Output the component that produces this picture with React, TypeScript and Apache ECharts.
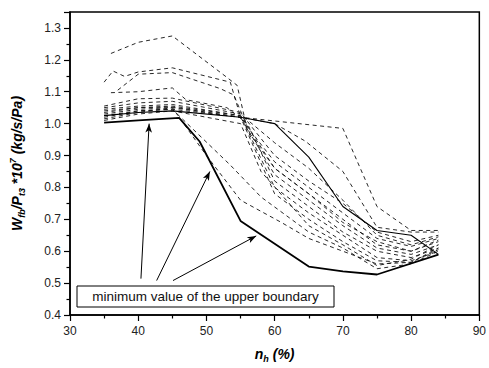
import React, { useEffect, useRef } from "react";
import * as echarts from "echarts";

// x: n_h (%), y: W_fb/P_t3 * 10^7 (kg/s/Pa)
const lowerBoundary: [number, number][] = [[35, 1.003], [40, 1.01], [46, 1.018], [49, 0.944], [55, 0.695], [65, 0.552], [70, 0.537], [75, 0.527], [84, 0.589]];
const solidCurve: [number, number][] = [[35, 1.025], [40, 1.035], [45, 1.04], [55, 1.02], [60, 1.0], [65, 0.895], [70, 0.74], [75, 0.665], [80, 0.65], [84, 0.59]];

const d1: [number, number][] = [[36, 1.22], [40, 1.255], [45, 1.275], [53, 1.145], [54.5, 1.12], [56, 0.98], [60, 0.86], [65, 0.78], [70, 0.7], [75, 0.62], [80, 0.6], [84, 0.63]];
const d2: [number, number][] = [[35, 1.13], [36.3, 1.165], [38, 1.148], [40, 1.162], [45, 1.175], [53.5, 1.13], [55, 1.02], [60, 0.84], [65, 0.76], [70, 0.68], [75, 0.61], [80, 0.59], [84, 0.62]];
const d3: [number, number][] = [[37, 1.105], [40, 1.155], [45, 1.16], [52, 1.11], [54, 1.09], [56, 0.99], [60, 0.88], [65, 0.8], [70, 0.72], [75, 0.64], [80, 0.615], [84, 0.64]];
const d4: [number, number][] = [[36, 1.097], [40, 1.1], [45, 1.112], [47, 1.075], [53, 1.05], [56, 1.0], [60, 0.82], [65, 0.74], [70, 0.66], [75, 0.6], [80, 0.58], [84, 0.61]];
const d5: [number, number][] = [[35, 1.055], [40, 1.078], [45, 1.08], [55, 1.035], [57, 0.98], [60, 0.9], [65, 0.82], [70, 0.75], [75, 0.66], [80, 0.63], [84, 0.65]];
const d6: [number, number][] = [[35, 1.05], [40, 1.065], [45, 1.07], [55, 1.03], [60, 0.94], [65, 0.86], [70, 0.76], [75, 0.65], [80, 0.62], [84, 0.645]];
const d7: [number, number][] = [[35, 1.045], [40, 1.055], [45, 1.06], [55, 1.025], [60, 0.8], [65, 0.72], [70, 0.65], [75, 0.58], [80, 0.57], [84, 0.6]];
const d8: [number, number][] = [[35, 1.04], [40, 1.05], [45, 1.052], [55, 1.02], [60, 0.78], [65, 0.7], [70, 0.63], [75, 0.57], [80, 0.565], [84, 0.605]];
const d9: [number, number][] = [[35, 1.03], [40, 1.045], [45, 1.05], [55, 1.02], [70, 0.985], [75, 0.74], [80, 0.665], [84, 0.665]];
const d10: [number, number][] = [[35, 1.02], [40, 1.04], [45, 1.045], [55, 1.02], [60, 1.0], [64.5, 0.945], [70, 0.85], [75, 0.675], [80, 0.66], [84, 0.66]];
const d11: [number, number][] = [[35, 1.015], [40, 1.035], [45, 1.05], [50, 0.9], [55, 0.76], [61, 0.69], [65, 0.64], [70, 0.6], [75, 0.56], [80, 0.565], [84, 0.61]];
const d12: [number, number][] = [[35, 1.025], [40, 1.04], [45, 1.045], [53.5, 0.87], [58, 0.77], [65, 0.66], [70, 0.61], [75, 0.545], [80, 0.56], [84, 0.6]];
const d13: [number, number][] = [[35, 1.01], [40, 1.03], [45, 1.04], [55, 1.0], [58, 0.85], [65, 0.68], [70, 0.62], [75, 0.555], [80, 0.575], [84, 0.62]];
const d14: [number, number][] = [[35, 1.035], [40, 1.05], [45, 1.055], [55, 1.025], [60, 0.86], [65, 0.78], [70, 0.69], [75, 0.63], [80, 0.6], [84, 0.635]];
const dashedCurves = [d1, d2, d3, d4, d5, d6, d7, d8, d9, d10, d11, d12, d13, d14];

// annotation arrows: [from, to] in data coordinates
const arrows: [[number, number], [number, number]][] = [
  [[40.4, 0.514], [41.6, 1.0]],
  [[42.7, 0.508], [50.5, 0.85]],
  [[45.1, 0.508], [57.3, 0.648]],
];
const noteText = "minimum value of the upper boundary";

const FONT = "Liberation Sans, Arial, sans-serif";

export default function App() {
  const ref = useRef<HTMLDivElement>(null);
  useEffect(() => {
    if (!ref.current) return;
    const chart = echarts.init(ref.current, null, { renderer: "svg" });
    const axisCommon = {
      axisLine: { show: true, onZero: false, lineStyle: { color: "#000", width: 1.5 } },
      axisTick: { show: true, inside: false, length: 6, lineStyle: { color: "#000", width: 1.2 } },
      minorTick: { show: true, splitNumber: 2, length: 3.5, lineStyle: { color: "#000", width: 1.2 } },
      splitLine: { show: false },
      minorSplitLine: { show: false },
    };
    const nameRich = {
      i: { fontFamily: FONT, fontSize: 14, fontWeight: "bold", fontStyle: "italic", color: "#000", lineHeight: 18 },
      sub: { fontFamily: FONT, fontSize: 9, fontWeight: "bold", fontStyle: "italic", color: "#000", verticalAlign: "bottom", lineHeight: 12, padding: [6, 0, 0, 0] },
      sup: { fontFamily: FONT, fontSize: 9, fontWeight: "bold", fontStyle: "italic", color: "#000", verticalAlign: "top", lineHeight: 12, padding: [0, 0, 6, 0] },
    };
    chart.setOption({
      animation: false,
      backgroundColor: "#fff",
      grid: { left: 69, right: 4, top: 12, bottom: 51, show: true, borderColor: "#000", borderWidth: 1.5 },
      xAxis: {
        type: "value",
        min: 30,
        max: 90,
        interval: 10,
        ...axisCommon,
        axisLabel: { fontFamily: FONT, fontSize: 12, color: "#222", margin: 10 },
        name: "{i|n}{sub|h}{i| (%)}",
        nameLocation: "middle",
        nameGap: 30,
        nameTextStyle: { rich: nameRich },
      },
      yAxis: {
        type: "value",
        min: 0.4,
        max: 1.35,
        interval: 0.1,
        ...axisCommon,
        axisLabel: {
          fontFamily: FONT,
          fontSize: 12,
          color: "#222",
          margin: 9,
          showMaxLabel: false,
          formatter: (v: number) => v.toFixed(1),
        },
        name: "{i|W}{sub|fb}{i|/P}{sub|t3}{i| *10}{sup|7}{i| (kg/s/Pa)}",
        nameLocation: "middle",
        nameGap: 44,
        nameTextStyle: { rich: nameRich },
      },
      series: [
        ...dashedCurves.map((d, k) => ({
          type: "line",
          name: "d" + (k + 1),
          data: d,
          symbol: "none",
          lineStyle: { color: "#111", width: 0.9, type: [4, 3.5] },
          silent: true,
        })),
        {
          type: "line",
          name: "solid",
          data: solidCurve,
          symbol: "none",
          lineStyle: { color: "#000", width: 1.1 },
          silent: true,
        },
        {
          type: "line",
          name: "lower",
          data: lowerBoundary,
          symbol: "none",
          lineStyle: { color: "#000", width: 1.8 },
          silent: true,
          markLine: {
            silent: true,
            symbol: ["none", "arrow"],
            symbolSize: [5, 9],
            label: { show: false },
            lineStyle: { color: "#000", width: 1, type: "solid" },
            data: arrows.map(([a, b]) => [{ coord: a }, { coord: b }]),
          },
        },
      ],
      graphic: [
        {
          type: "rect",
          shape: { x: 77, y: 286, width: 257, height: 21 },
          style: { fill: "#fff", stroke: "#000", lineWidth: 1 },
          z: 100,
        },
        {
          type: "text",
          x: 205.5,
          y: 296.5,
          style: { text: noteText, fontFamily: FONT, fontSize: 13.5, fill: "#111", align: "center", verticalAlign: "middle" },
          z: 101,
        },
      ],
    });
    return () => chart.dispose();
  }, []);
  return <div ref={ref} style={{ position: "fixed", left: 0, top: 0, width: 489, height: 368, background: "#fff" }} />;
}
